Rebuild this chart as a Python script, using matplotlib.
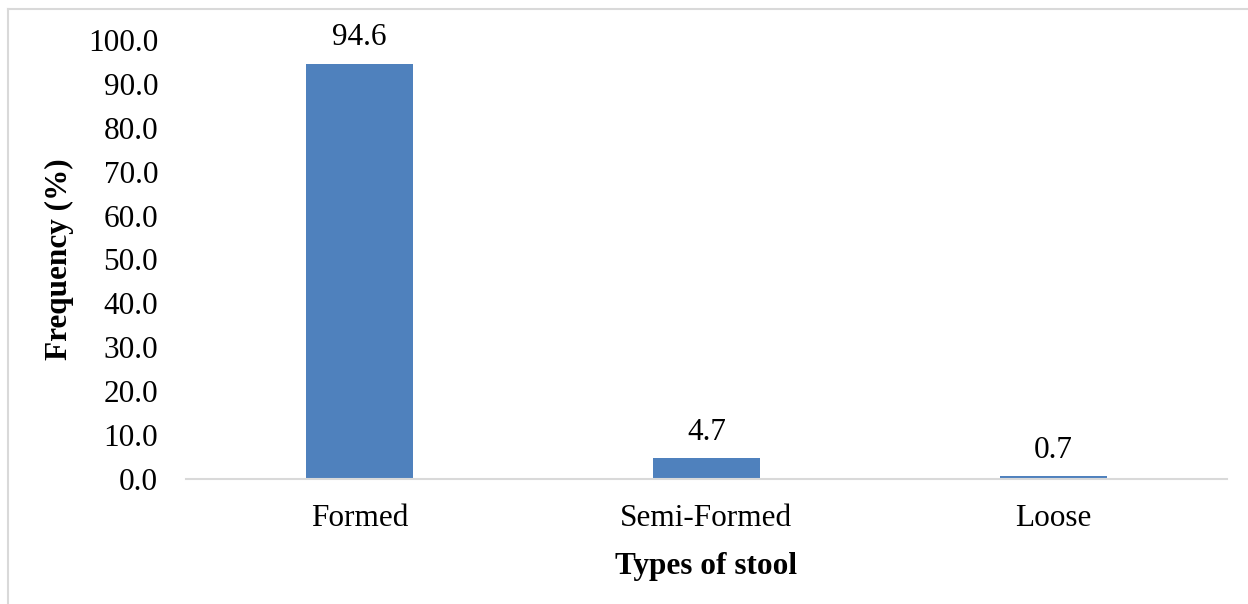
import matplotlib.pyplot as plt
from matplotlib.lines import Line2D

# data
categories = ['Formed', 'Semi-Formed', 'Loose']
frequency = [94.6, 4.7, 0.7]
y_ticks = [0, 10, 20, 30, 40, 50, 60, 70, 80, 90, 100]

plt.rcParams['font.family'] = ['Liberation Serif', 'DejaVu Serif']

fig = plt.figure(figsize=(12.48, 6.04), dpi=100)
ax = fig.add_axes([0.149, 0.207, 0.834, 0.727])

x = range(len(categories))
bars = ax.bar(x, frequency, width=0.31, color='#4F81BD')

# value labels above bars
for xi, v in zip(x, frequency):
    ax.annotate(f'{v:.1f}', (xi, v), xytext=(0, 8), textcoords='offset points',
                ha='center', va='bottom', fontsize=22.5)

ax.set_xlim(-0.5, 2.5)
ax.set_ylim(0, 100)
ax.set_xticks(list(x))
ax.set_xticklabels(categories, fontsize=22.5)
ax.set_yticks(y_ticks)
ax.set_yticklabels([f'{t:.1f}' for t in y_ticks], fontsize=22.5)
ax.tick_params(axis='y', length=0, pad=20)
ax.tick_params(axis='x', length=0, pad=18)

ax.set_xlabel('Types of stool', fontsize=22.5, fontweight='bold', labelpad=14)
ax.set_ylabel('Frequency (%)', fontsize=22.5, fontweight='bold', labelpad=10)

for side in ['top', 'right', 'left']:
    ax.spines[side].set_visible(False)
ax.spines['bottom'].set_color('#D9D9D9')
ax.spines['bottom'].set_linewidth(1.5)

# chart area border (only top and left visible in the crop)
fig.add_artist(Line2D([8 / 1248, 1.0], [1 - 9 / 604, 1 - 9 / 604], color='#D9D9D9', lw=1.5))
fig.add_artist(Line2D([8 / 1248, 8 / 1248], [0, 1 - 9 / 604], color='#D9D9D9', lw=1.5))

fig.savefig('out.png', dpi=100)
